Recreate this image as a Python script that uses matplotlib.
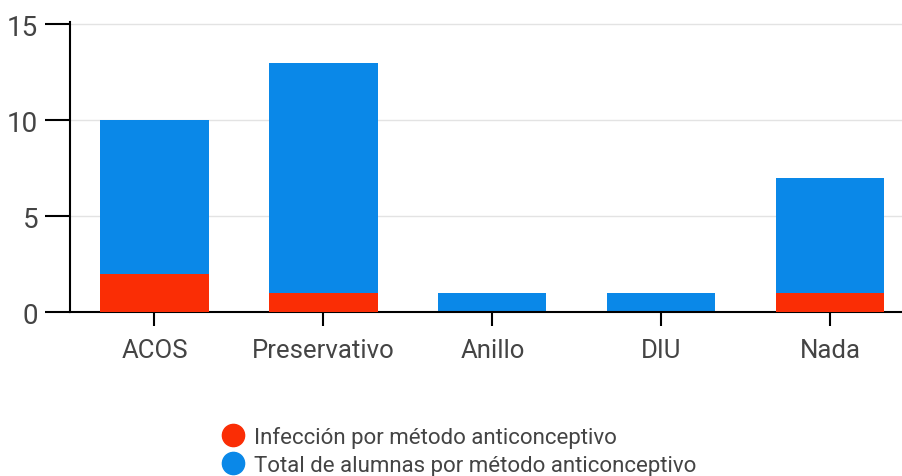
import matplotlib.pyplot as plt
from matplotlib.lines import Line2D

plt.rcParams['font.family'] = ['Roboto', 'DejaVu Sans']

metodos = ["ACOS", "Preservativo", "Anillo", "DIU", "Nada"]
total_alumnas = [10, 13, 1, 1, 7]
infeccion = [2, 1, 0, 0, 1]

azul = "#0A88E8"
rojo = "#FA2D05"
gris = "#444444"

fig = plt.figure(figsize=(9.03, 4.77), dpi=100)
ax = fig.add_axes([0.0775, 0.3438, 0.9225, 0.608])

x = range(len(metodos))
ax.bar(x, total_alumnas, width=0.64, color=azul, zorder=2)
ax.bar(x, infeccion, width=0.64, color=rojo, zorder=3)

ax.set_xlim(-0.5, 4.43)
ax.set_ylim(0, 15.13)
ax.set_yticks([0, 5, 10, 15])
ax.set_xticks(list(x))
ax.set_xticklabels(metodos)
ax.yaxis.grid(True, color="#e3e3e3", linewidth=1, zorder=0)
ax.spines["top"].set_visible(False)
ax.spines["right"].set_visible(False)
ax.spines["left"].set_linewidth(1.5)
ax.spines["bottom"].set_linewidth(1.5)
ax.tick_params(axis="y", length=18, width=1.5, labelsize=20, labelcolor=gris, pad=5)
ax.tick_params(axis="x", length=10, width=1.5, labelsize=18.5, labelcolor=gris, pad=9)

handles = [
    Line2D([], [], marker="o", linestyle="", markersize=16, color=rojo),
    Line2D([], [], marker="o", linestyle="", markersize=16, color=azul),
]
labels = ["Infección por método anticonceptivo",
          "Total de alumnas por método anticonceptivo"]
fig.legend(handles, labels, loc="center left", bbox_to_anchor=(0.246, 0.053),
           frameon=False, fontsize=16, labelcolor=gris, handletextpad=0.45,
           labelspacing=0.3, handlelength=1.0, borderaxespad=0, borderpad=0)
fig.savefig("out.png", dpi=100)
